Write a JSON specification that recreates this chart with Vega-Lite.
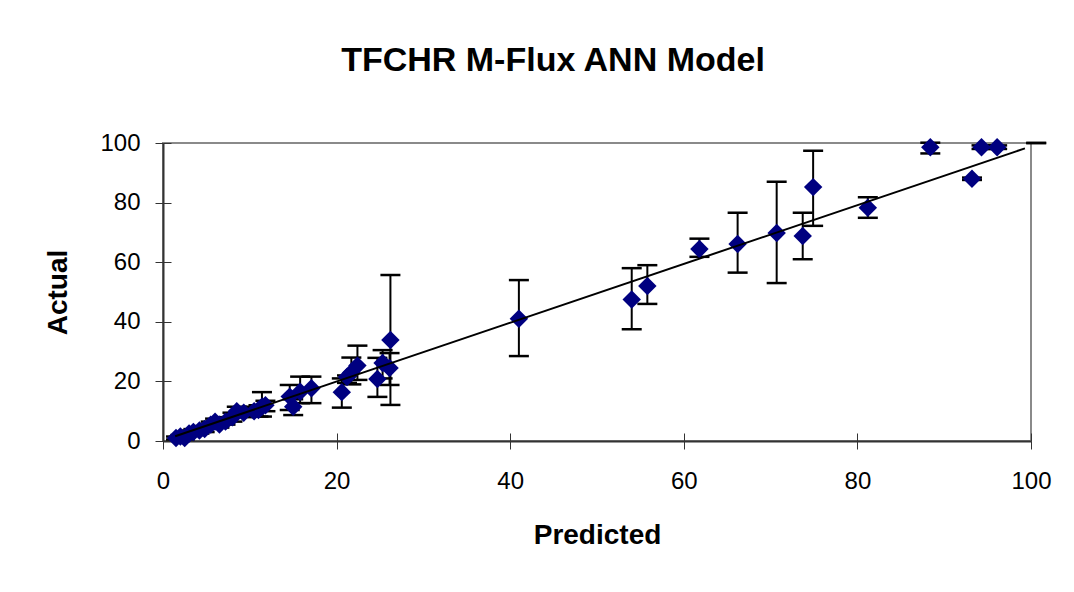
{
  "$schema": "https://vega.github.io/schema/vega-lite/v6.json",
  "width": 868,
  "height": 298,
  "autosize": "none",
  "padding": {"left": 163, "top": 143, "right": 43, "bottom": 151},
  "background": "white",
  "config": {
    "font": "Liberation Sans",
    "view": {"stroke": "#8a8a8a", "strokeWidth": 2},
    "axis": {"grid": false}
  },
  "title": {
    "text": "TFCHR M-Flux ANN Model",
    "font": "Liberation Sans",
    "fontSize": 34,
    "fontWeight": "bold",
    "color": "black",
    "offset": 53,
    "dx": -44
  },
  "datasets": {
    "pts": [
      {"p": 1.5, "a": 1.0, "lo": 0.5, "hi": 1.5},
      {"p": 2.0, "a": 1.5, "lo": 1.0, "hi": 2.0},
      {"p": 2.5, "a": 1.0, "lo": 0.5, "hi": 1.5},
      {"p": 3.0, "a": 2.5, "lo": 2.0, "hi": 3.5},
      {"p": 3.5, "a": 3.0, "lo": 2.0, "hi": 4.0},
      {"p": 4.2, "a": 3.5, "lo": 2.5, "hi": 4.5},
      {"p": 4.8, "a": 4.0, "lo": 3.0, "hi": 5.0},
      {"p": 5.5, "a": 5.5, "lo": 4.5, "hi": 6.5},
      {"p": 6.0, "a": 6.5, "lo": 5.5, "hi": 7.5},
      {"p": 6.5, "a": 5.5, "lo": 4.5, "hi": 6.5},
      {"p": 7.2, "a": 6.5, "lo": 5.5, "hi": 8.0},
      {"p": 8.0, "a": 8.0, "lo": 6.5, "hi": 9.5},
      {"p": 8.5, "a": 10.0, "lo": 8.5, "hi": 11.5},
      {"p": 9.3, "a": 9.5, "lo": 8.0, "hi": 11.0},
      {"p": 10.5, "a": 10.0, "lo": 8.5, "hi": 11.5},
      {"p": 11.0, "a": 10.4, "lo": 8.2, "hi": 12.0},
      {"p": 11.4, "a": 11.5, "lo": 8.2, "hi": 16.4},
      {"p": 11.8, "a": 12.0, "lo": 10.0, "hi": 13.5},
      {"p": 14.6, "a": 14.9, "lo": 10.4, "hi": 18.8},
      {"p": 15.0, "a": 11.5, "lo": 8.7, "hi": 14.0},
      {"p": 15.8, "a": 16.5, "lo": 12.7, "hi": 21.6},
      {"p": 17.1, "a": 17.7, "lo": 12.7, "hi": 21.6},
      {"p": 20.6, "a": 16.4, "lo": 11.2, "hi": 21.0},
      {"p": 21.2, "a": 21.5, "lo": 19.5, "hi": 22.0},
      {"p": 21.7, "a": 23.0, "lo": 19.0, "hi": 28.0},
      {"p": 22.4, "a": 25.3, "lo": 20.5, "hi": 32.0},
      {"p": 24.7, "a": 20.8, "lo": 14.8, "hi": 27.9},
      {"p": 25.3, "a": 26.2, "lo": 21.0, "hi": 30.5},
      {"p": 26.1, "a": 24.5, "lo": 18.8, "hi": 29.5},
      {"p": 26.2, "a": 33.9, "lo": 12.1, "hi": 55.7},
      {"p": 41.0, "a": 41.0, "lo": 28.5, "hi": 54.0},
      {"p": 54.0, "a": 47.5, "lo": 37.5, "hi": 58.0},
      {"p": 55.8, "a": 52.0, "lo": 46.0, "hi": 59.0},
      {"p": 61.8, "a": 64.4, "lo": 61.8, "hi": 67.9},
      {"p": 66.2, "a": 66.1, "lo": 56.5, "hi": 76.6},
      {"p": 70.7, "a": 69.8, "lo": 53.0, "hi": 87.0},
      {"p": 73.7, "a": 68.8, "lo": 61.0, "hi": 76.6},
      {"p": 74.9, "a": 85.2, "lo": 72.2, "hi": 97.4},
      {"p": 81.2, "a": 78.3, "lo": 74.9, "hi": 81.8},
      {"p": 88.4, "a": 98.6, "lo": 96.5, "hi": 100.1},
      {"p": 93.2, "a": 88.0, "lo": 87.6, "hi": 88.4},
      {"p": 94.3, "a": 98.6, "lo": 98.0, "hi": 99.2},
      {"p": 96.1, "a": 98.6, "lo": 98.0, "hi": 99.2},
      {"p": 100.6, "a": null, "lo": 100.0, "hi": 100.0}
    ],
    "fit": [
      {"p": 1.4, "a": 1.6},
      {"p": 99.3, "a": 98.2}
    ]
  },
  "layer": [
    {
      "data": {"name": "pts"},
      "mark": {"type": "rule", "color": "black", "strokeWidth": 2},
      "encoding": {
        "x": {"field": "p", "type": "quantitative", "scale": {"domain": [0, 100], "nice": false},
          "axis": {"orient": "bottom", "values": [0, 20, 40, 60, 80, 100], "tickSize": -8, "tickColor": "#333333", "tickWidth": 1, "labels": false, "domain": false, "title": null}},
        "y": {"field": "lo", "type": "quantitative", "scale": {"domain": [0, 100], "nice": false},
          "axis": {"orient": "left", "values": [0, 20, 40, 60, 80, 100], "tickSize": -8, "tickColor": "#333333", "tickWidth": 1, "labels": false, "domain": false, "title": null}},
        "y2": {"field": "hi"}
      }
    },
    {
      "data": {"name": "pts"},
      "mark": {"type": "tick", "orient": "horizontal", "size": 20, "thickness": 2.5, "color": "black", "opacity": 1},
      "encoding": {
        "x": {"field": "p", "type": "quantitative", "axis": null},
        "y": {"field": "lo", "type": "quantitative", "axis": null}
      }
    },
    {
      "data": {"name": "pts"},
      "mark": {"type": "tick", "orient": "horizontal", "size": 20, "thickness": 2.5, "color": "black", "opacity": 1},
      "encoding": {
        "x": {"field": "p", "type": "quantitative", "axis": null},
        "y": {"field": "hi", "type": "quantitative", "axis": null}
      }
    },
    {
      "data": {"name": "pts"},
      "mark": {"type": "point", "shape": "diamond", "filled": true, "color": "#000080", "size": 340, "opacity": 1},
      "encoding": {
        "x": {"field": "p", "type": "quantitative",
          "axis": {"orient": "bottom", "values": [0, 20, 40, 60, 80, 100], "tickSize": 8, "tickColor": "#333333", "tickWidth": 1,
            "domainColor": "#333333", "domainWidth": 2, "labelFontSize": 24, "labelColor": "black", "labelPadding": 20, "labelFlush": false,
            "title": "Predicted", "titleFontSize": 28, "titleFontWeight": "bold", "titleColor": "black", "titlePadding": 28}},
        "y": {"field": "a", "type": "quantitative",
          "axis": {"orient": "left", "values": [0, 20, 40, 60, 80, 100], "tickSize": 8, "tickColor": "#333333", "tickWidth": 1,
            "domainColor": "#333333", "domainWidth": 2, "labelFontSize": 24, "labelColor": "black", "labelPadding": 15, "labelFlush": false,
            "title": "Actual", "titleFontSize": 28, "titleFontWeight": "bold", "titleColor": "black", "titlePadding": 27}}
      }
    },
    {
      "data": {"name": "fit"},
      "mark": {"type": "line", "color": "black", "strokeWidth": 2},
      "encoding": {
        "x": {"field": "p", "type": "quantitative", "axis": null},
        "y": {"field": "a", "type": "quantitative", "axis": null}
      }
    }
  ],
  "resolve": {"axis": {"x": "independent", "y": "independent"}}
}
